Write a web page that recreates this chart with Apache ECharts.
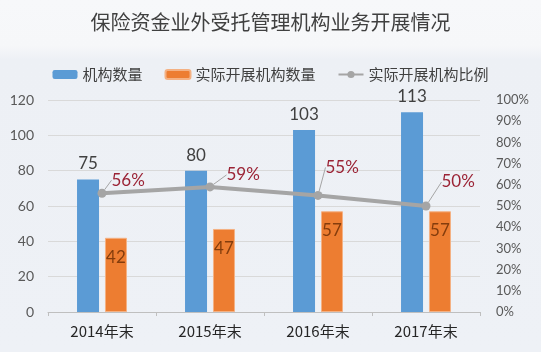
<!DOCTYPE html>
<html>
<head>
<meta charset="utf-8">
<script src="https://cdn.jsdelivr.net/npm/echarts@6/dist/echarts.min.js"></script>
<style>
html,body{margin:0;padding:0;}
#main{width:541px;height:352px;}
</style>
</head>
<body>
<div id="main"></div>
<script>
var categories=['2014年末','2015年末','2016年末','2017年末'];
var orgCount=[75,80,103,113];
var activeCount=[42,47,57,57];
var activeRatio=[0.56,0.59,0.55,0.50];

// 折线标签的偏移（样式）
var labelShift=[[0,-13],[7,-12],[-2,-28],[6,-24]];

var myChart=echarts.init(document.getElementById('main'));
var cjk='"Noto Sans CJK SC", sans-serif';
var num='Lato, "Noto Sans CJK SC", sans-serif';

option={
  backgroundColor:{type:'linear',x:0,y:0,x2:0,y2:1,colorStops:[
    {offset:0,color:'#f7f8fa'},{offset:0.13,color:'#f6f7f9'},
    {offset:0.17,color:'#edf0f5'},{offset:1,color:'#eef1f6'}]},
  title:{
    text:'保险资金业外受托管理机构业务开展情况',
    left:'center',top:7,
    textStyle:{fontFamily:cjk,fontSize:20,fontWeight:'normal',color:'#404040'}
  },
  legend:{
    top:62,left:'center',itemWidth:25,itemHeight:9,itemGap:22,
    textStyle:{fontFamily:cjk,fontSize:15,color:'#404040'},
    data:['机构数量','实际开展机构数量','实际开展机构比例']
  },
  grid:{left:48,right:61,top:100,bottom:40},
  xAxis:{
    type:'category',data:categories,
    axisLine:{lineStyle:{color:'#bfbfbf'}},
    axisTick:{show:true,length:4,lineStyle:{color:'#bfbfbf'}},
    axisLabel:{fontFamily:cjk,fontSize:15,color:'#262626',margin:12}
  },
  yAxis:[{
    type:'value',min:0,max:120,interval:20,
    axisLine:{show:false},axisTick:{show:false},
    splitLine:{lineStyle:{color:'#d9d9d9'}},
    axisLabel:{fontFamily:num,fontSize:14,color:'#595959',margin:14}
  },{
    type:'value',min:0,max:1,interval:0.1,
    axisLine:{show:false},axisTick:{show:false},splitLine:{show:false},
    axisLabel:{fontFamily:num,fontSize:13,color:'#595959',margin:16,
      formatter:function(v){return Math.round(v*100)+'%';}}
  }],
  series:[{
    name:'机构数量',type:'bar',data:orgCount,barWidth:22,barGap:'27%',
    itemStyle:{color:'#5b9bd5'},
    label:{show:true,position:'top',distance:7,fontFamily:num,fontSize:17,color:'#404040'}
  },{
    name:'实际开展机构数量',type:'bar',data:activeCount,barWidth:22,
    itemStyle:{color:'#ed7d31',borderColor:'#f4b183',borderWidth:1},
    label:{show:true,position:'insideTop',distance:11,fontFamily:num,fontSize:17,color:'#843c0c'}
  },{
    name:'实际开展机构比例',type:'line',yAxisIndex:1,data:activeRatio,
    symbol:'circle',symbolSize:9,
    lineStyle:{color:'#a5a5a5',width:4},
    itemStyle:{color:'#a5a5a5'},
    label:{show:true,position:'right',distance:5,fontFamily:num,fontSize:17,color:'#9b2335',
      formatter:function(p){return Math.round(p.value*100)+'%';}},
    labelLine:{show:true,lineStyle:{color:'#a5a5a5',width:1}},
    labelLayout:function(p){
      var s=labelShift[p.dataIndex];
      return {dx:s[0],dy:s[1]};
    },
    z:5
  }]
};

myChart.setOption(option);
</script>
</body>
</html>
